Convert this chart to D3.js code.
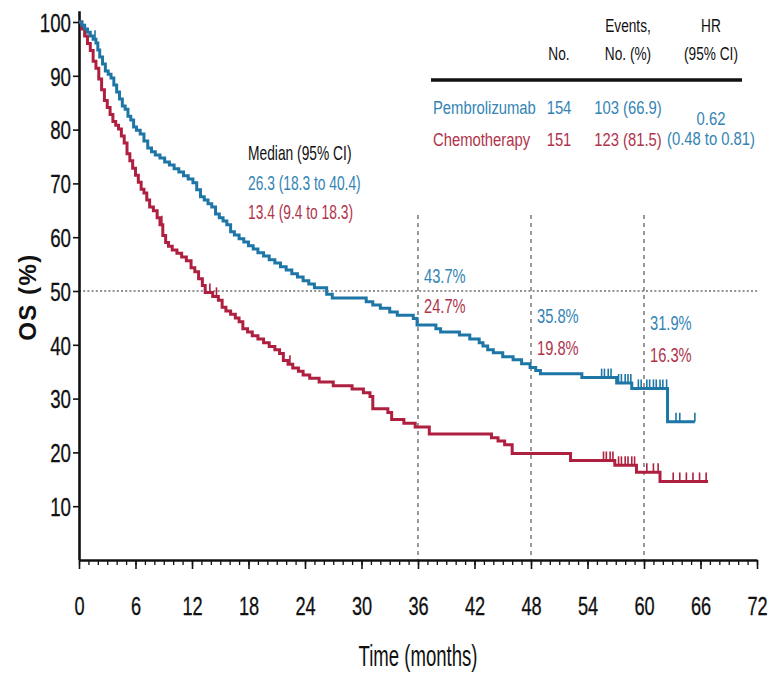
<!DOCTYPE html>
<html>
<head>
<meta charset="utf-8">
<script src="https://cdn.jsdelivr.net/npm/d3@7"></script>
<style>
  body { margin: 0; background: #fff; }
  text { font-family: Arial, "Liberation Sans", Helvetica, sans-serif; }
</style>
</head>
<body>
<svg id="chart" width="769" height="678"></svg>
<script>
// ---- data ----
const xTicks = [0, 6, 12, 18, 24, 30, 36, 42, 48, 54, 60, 66, 72];
const yTicks = [10, 20, 30, 40, 50, 60, 70, 80, 90, 100];

// Kaplan-Meier steps: [month, OS %] (value after the drop at that month)
const pembroSteps = [[0,100],[0.3,99.4],[0.6,98.7],[0.9,98.1],[1.2,97.4],[1.5,96.8],[1.8,96.1],[2.0,94.8],[2.2,93.5],[2.5,92.2],[2.8,90.9],[3.1,90.3],[3.4,89.6],[3.7,88.3],[4.0,87.0],[4.3,85.7],[4.6,84.4],[4.9,83.8],[5.2,82.5],[5.5,81.8],[5.8,80.5],[6.1,79.9],[6.5,79.2],[6.9,77.9],[7.3,76.6],[7.7,75.9],[8.1,75.3],[8.6,74.7],[9.1,74.0],[9.6,73.4],[10.1,72.7],[10.6,72.1],[11.1,71.4],[11.6,70.8],[12.1,70.1],[12.5,68.8],[12.9,67.5],[13.3,66.9],[13.7,66.2],[14.1,65.6],[14.5,64.3],[14.9,63.6],[15.3,63.0],[15.7,62.3],[16.1,61.0],[16.5,60.4],[17.0,59.7],[17.5,59.1],[18.0,58.4],[18.5,57.8],[19.0,57.1],[19.6,56.5],[20.2,55.8],[20.8,55.2],[21.4,54.5],[22.0,53.9],[22.6,53.2],[23.2,52.6],[23.8,51.9],[24.4,51.3],[25.0,50.6],[26.3,49.4],[26.9,48.7],[30.5,48.0],[31.2,47.4],[32.0,46.8],[33.0,46.1],[33.8,45.5],[35.5,44.9],[35.9,43.7],[37.9,43.0],[38.4,42.4],[40.4,41.8],[41.5,41.1],[42.5,40.4],[42.9,39.8],[43.4,39.1],[44.0,38.5],[45.0,37.8],[46.1,37.2],[47.0,36.5],[47.9,35.8],[48.5,35.2],[49.0,34.6],[53.4,33.9],[57.1,32.9],[58.7,31.9],[62.5,25.7],[65.4,25.7]];
const chemoSteps = [[0,100],[0.3,98.7],[0.6,97.4],[0.9,96.0],[1.2,94.7],[1.5,92.7],[1.8,91.4],[2.1,89.4],[2.4,87.4],[2.7,85.4],[3.0,84.1],[3.3,82.8],[3.6,81.5],[3.9,80.8],[4.2,80.1],[4.5,78.8],[4.8,77.5],[5.1,75.5],[5.4,74.2],[5.7,72.8],[6.0,71.5],[6.3,70.2],[6.6,68.9],[6.9,68.2],[7.2,66.9],[7.5,65.6],[7.9,64.9],[8.3,63.6],[8.6,62.3],[8.9,60.3],[9.2,59.0],[9.5,58.3],[9.9,57.6],[10.4,57.0],[10.9,56.3],[11.4,55.6],[11.9,54.3],[12.3,53.6],[12.7,52.3],[13.1,51.0],[13.4,49.7],[14.2,49.0],[14.8,48.3],[15.2,47.0],[15.6,46.3],[16.1,45.7],[16.6,45.0],[17.0,44.3],[17.4,43.0],[17.9,42.4],[18.4,41.7],[19.0,41.1],[19.6,40.4],[20.2,39.7],[20.8,39.1],[21.3,38.4],[21.7,37.1],[22.2,36.4],[22.7,35.7],[23.3,35.1],[23.8,34.4],[24.5,33.8],[25.5,33.1],[27.0,32.4],[29.0,31.8],[30.2,31.1],[30.9,30.4],[31.2,28.1],[32.8,27.4],[33.2,26.1],[34.5,25.4],[35.7,24.7],[37.2,23.4],[43.8,22.7],[44.5,22.1],[45.2,21.4],[46.0,19.8],[52.2,18.5],[56.9,17.6],[59.2,16.3],[61.7,14.6],[66.8,14.6]];

// censored observations (months)
const pembroCensored = [1.7, 55.5, 55.8, 56.2, 56.5, 57.3, 57.6, 58.0, 58.3, 58.6, 59.4, 59.7, 60.3, 60.6, 61.0, 61.3, 61.7, 62.0, 62.4, 63.4, 63.8, 65.4];
const chemoCensored = [8.8, 13.9, 14.6, 22.4, 55.7, 56.0, 56.4, 56.7, 57.3, 57.6, 58.0, 58.3, 58.7, 59.0, 60.3, 61.0, 61.5, 63.1, 63.8, 64.5, 65.2, 65.9, 66.6];

const landmarkMonths = [36, 48, 60];
const pembroLandmark = ["43.7%", "35.8%", "31.9%"];
const chemoLandmark = ["24.7%", "19.8%", "16.3%"];

const tableHeader = [["No."], ["Events,", "No. (%)"], ["HR", "(95% CI)"]];
const armNames = ["Pembrolizumab", "Chemotherapy"];
const armN = ["154", "151"];
const armEvents = ["103 (66.9)", "123 (81.5)"];
const hazardRatio = ["0.62", "(0.48 to 0.81)"];
const medianTitle = "Median (95% CI)";
const armMedians = ["26.3 (18.3 to 40.4)", "13.4 (9.4 to 18.3)"];

// ---- styling ----
const BLUE = "#1d76a6", BLUE_TXT = "#3384b5";
const RED = "#af1f3f", RED_TXT = "#b0344c";

const svg = d3.select("#chart");
const x = d3.scaleLinear().domain([0, 72]).range([79, 757]);
const y = d3.scaleLinear().domain([0, 100]).range([560, 22]);

// condensed text helper: horizontal squeeze around the anchor point
function ctext(parent, px, py, str, o) {
  const g = parent.append("g").attr("transform", `translate(${px},${py}) scale(${o.sx},1)`);
  return g.append("text")
    .attr("text-anchor", o.anchor || "start")
    .attr("font-size", o.size)
    .attr("font-weight", o.weight || "normal")
    .attr("fill", o.fill || "#111")
    .text(str);
}

// reference lines
svg.append("line")
  .attr("x1", x(0)).attr("x2", x(72))
  .attr("y1", y(50)).attr("y2", y(50))
  .attr("stroke", "#6f6f6f").attr("stroke-width", 1.6)
  .attr("stroke-dasharray", "2,2.2");

svg.selectAll("line.landmark").data(landmarkMonths).enter().append("line")
  .attr("class", "landmark")
  .attr("x1", d => x(d)).attr("x2", d => x(d))
  .attr("y1", 215).attr("y2", y(0))
  .attr("stroke", "#6f6f6f").attr("stroke-width", 1.4)
  .attr("stroke-dasharray", "4,4");

// axes
const xMinor = d3.axisBottom(x).tickValues(d3.range(0, 73, 1)).tickSize(5).tickFormat("").tickSizeOuter(0);
const gxm = svg.append("g").attr("transform", `translate(0,${y(0)})`).call(xMinor);
gxm.select(".domain").remove();
gxm.selectAll("line").attr("stroke", "#111").attr("stroke-width", 1.3);

const xAxis = d3.axisBottom(x).tickValues(xTicks).tickSize(9).tickSizeOuter(0).tickFormat(d3.format("d"));
const gx = svg.append("g").attr("transform", `translate(0,${y(0)})`).call(xAxis);
gx.select(".domain").attr("stroke", "#111").attr("stroke-width", 2.6);
gx.selectAll("line").attr("stroke", "#111").attr("stroke-width", 1.6);
gx.selectAll("text")
  .attr("font-size", 26).attr("fill", "#111").attr("y", 0).attr("dy", 0)
  .attr("stroke", "#111").attr("stroke-width", 0.3)
  .attr("transform", "translate(0,55) scale(0.7,1)");

const yAxis = d3.axisLeft(y).tickValues(yTicks).tickSize(6).tickSizeOuter(0).tickFormat(d3.format("d"));
const gy = svg.append("g").attr("transform", `translate(${x(0)},0)`).call(yAxis);
gy.select(".domain").attr("stroke", "#111").attr("stroke-width", 2.6)
  .attr("d", `M0.5,${y(0)}V${y(102)}`);
gy.selectAll("line").attr("stroke", "#111").attr("stroke-width", 1.6);
gy.selectAll("text")
  .attr("font-size", 26).attr("fill", "#111").attr("x", 0).attr("dy", "0.36em")
  .attr("stroke", "#111").attr("stroke-width", 0.3)
  .attr("transform", "translate(-8,0) scale(0.72,1)");

// axis titles
ctext(svg, (x(0) + x(72)) / 2, 666, "Time (months)", { size: 29, sx: 0.64, anchor: "middle" });
svg.append("text")
  .attr("transform", `translate(36,297) rotate(-90)`)
  .attr("text-anchor", "middle")
  .attr("font-size", 24).attr("font-weight", "bold").attr("letter-spacing", 1.5)
  .attr("fill", "#111")
  .text("OS (%)");

// survival curves
const line = d3.line().x(d => x(d[0])).y(d => y(d[1])).curve(d3.curveStepAfter);
function survAt(steps, t) {
  const i = d3.bisector(d => d[0]).right(steps, t) - 1;
  return steps[Math.max(0, i)][1];
}
function drawArm(steps, censored, color) {
  svg.append("path").datum(steps)
    .attr("d", line)
    .attr("fill", "none").attr("stroke", color)
    .attr("stroke-width", 3).attr("stroke-linejoin", "miter");
  svg.append("g").selectAll("line").data(censored).enter().append("line")
    .attr("x1", d => x(d)).attr("x2", d => x(d))
    .attr("y1", d => y(survAt(steps, d)))
    .attr("y2", d => y(survAt(steps, d)) - 9)
    .attr("stroke", color).attr("stroke-width", 1.6);
}
drawArm(chemoSteps, chemoCensored, RED);
drawArm(pembroSteps, pembroCensored, BLUE);

// landmark labels
const lmBlueY = [283, 323, 330];
const lmRedY = [313, 355, 362];
landmarkMonths.forEach((m, i) => {
  ctext(svg, x(m) + 6, lmBlueY[i], pembroLandmark[i], { size: 21, sx: 0.7, fill: BLUE_TXT });
  ctext(svg, x(m) + 6, lmRedY[i], chemoLandmark[i], { size: 21, sx: 0.7, fill: RED_TXT });
});

// median block
ctext(svg, 248, 160, medianTitle, { size: 20, sx: 0.69, fill: "#111" });
ctext(svg, 248, 190, armMedians[0], { size: 20, sx: 0.69, fill: BLUE_TXT });
ctext(svg, 248, 219, armMedians[1], { size: 20, sx: 0.69, fill: RED_TXT });

// summary table
const colX = [559, 628, 711];
ctext(svg, colX[0], 60, tableHeader[0][0], { size: 19, sx: 0.72, anchor: "middle" });
ctext(svg, colX[1], 32, tableHeader[1][0], { size: 19, sx: 0.72, anchor: "middle" });
ctext(svg, colX[1], 60, tableHeader[1][1], { size: 19, sx: 0.72, anchor: "middle" });
ctext(svg, colX[2], 32, tableHeader[2][0], { size: 19, sx: 0.72, anchor: "middle" });
ctext(svg, colX[2], 60, tableHeader[2][1], { size: 19, sx: 0.72, anchor: "middle" });

svg.append("line").attr("x1", 431).attr("x2", 742).attr("y1", 80).attr("y2", 80)
  .attr("stroke", "#111").attr("stroke-width", 3.5);

const rowY = [114, 146];
const rowFill = [BLUE_TXT, RED_TXT];
armNames.forEach((nm, i) => {
  ctext(svg, 433, rowY[i], nm, { size: 19, sx: 0.78, fill: rowFill[i] });
  ctext(svg, colX[0], rowY[i], armN[i], { size: 19, sx: 0.78, fill: rowFill[i], anchor: "middle" });
  ctext(svg, colX[1], rowY[i], armEvents[i], { size: 19, sx: 0.78, fill: rowFill[i], anchor: "middle" });
});
ctext(svg, colX[2], 125, hazardRatio[0], { size: 19, sx: 0.78, fill: BLUE_TXT, anchor: "middle" });
ctext(svg, colX[2], 145, hazardRatio[1], { size: 19, sx: 0.78, fill: BLUE_TXT, anchor: "middle" });
</script>
</body>
</html>
